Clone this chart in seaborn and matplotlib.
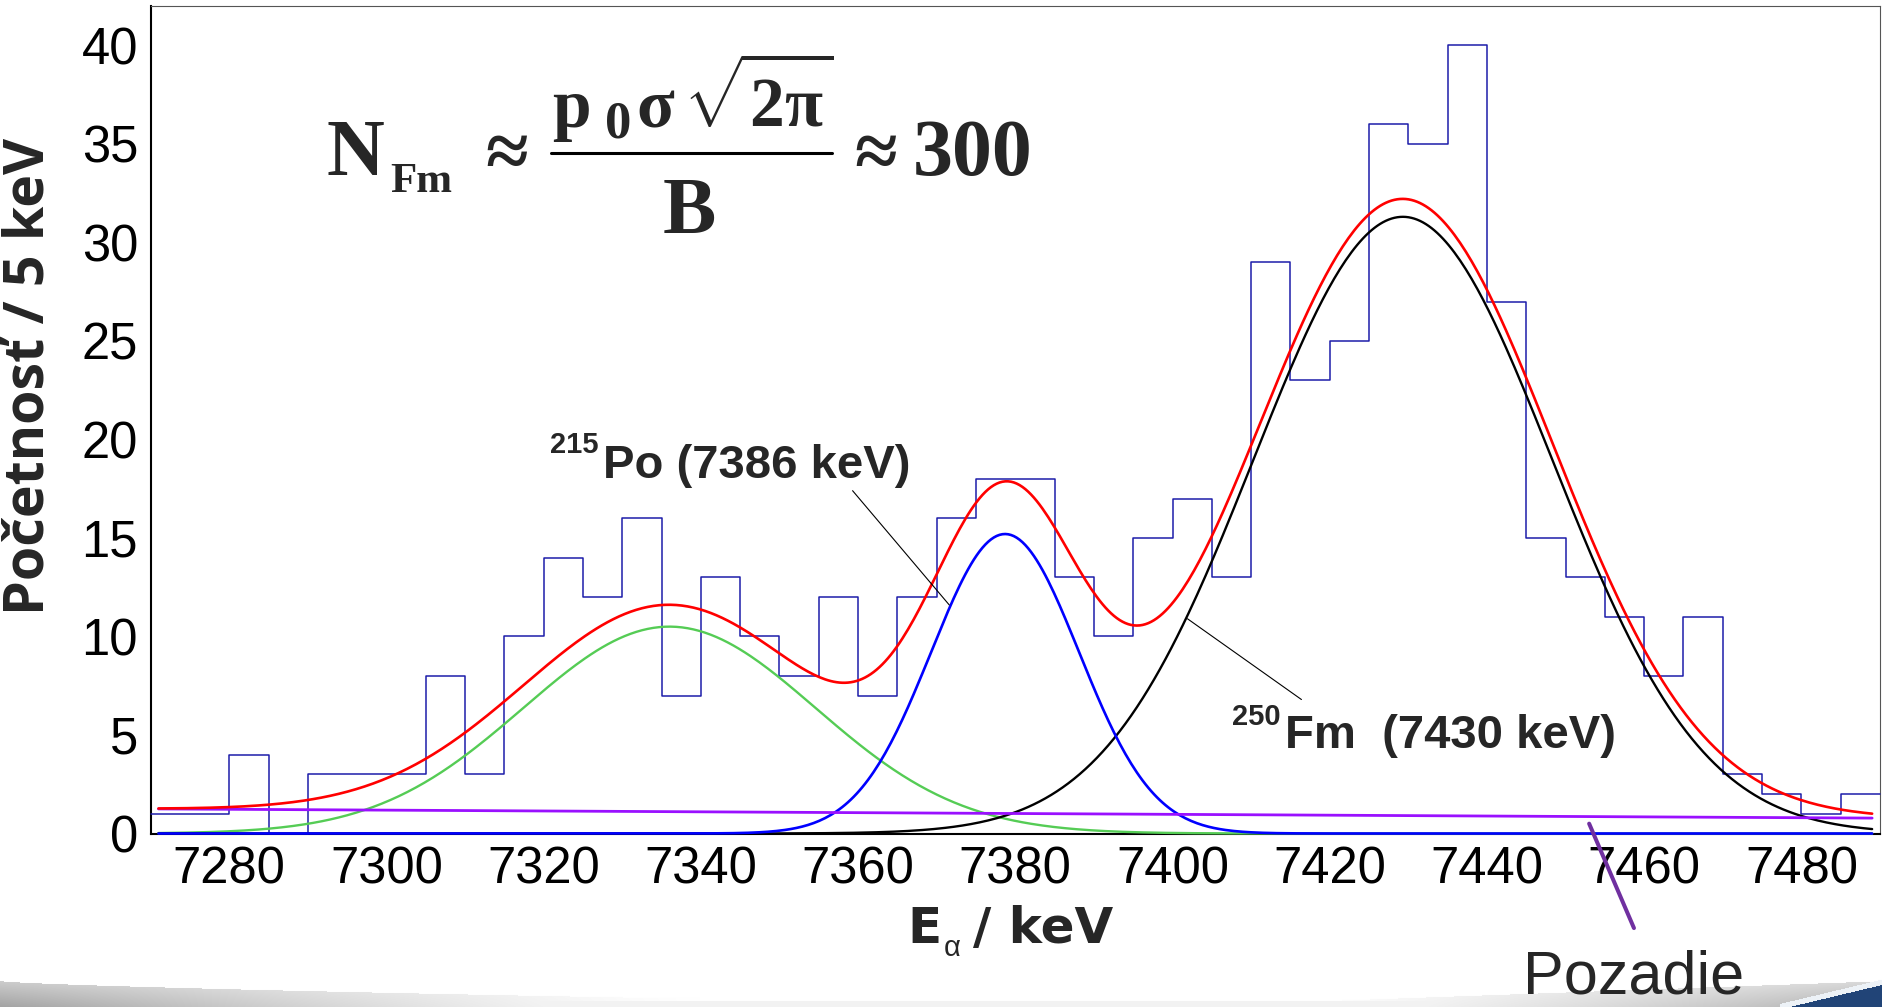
import numpy as np
import pandas as pd
import matplotlib
matplotlib.use("Agg")
import matplotlib.pyplot as plt
import seaborn as sns
from matplotlib.lines import Line2D

# ------------------------------------------------------------------ data
bin_width = 5
bin_left = list(range(7270, 7490, bin_width))          # 44 bins, 7270 .. 7485
counts = [1, 1, 4, 0, 3, 3, 3, 8, 3, 10,
          14, 12, 16, 7, 13, 10, 8, 12, 7, 12,
          16, 18, 18, 13, 10, 15, 17, 13, 29, 23,
          25, 36, 35, 40, 27, 15, 13, 11, 8, 11,
          3, 2, 1, 2]

# fitted gaussian components (amplitude, mean, sigma)
peak_names = ["pík 7336", "215Po", "250Fm"]
peak_amplitude = [10.5, 15.2, 31.3]
peak_mean = [7336.0, 7378.7, 7429.3]
peak_sigma = [18.6, 9.4, 19.0]
peak_colors = ["#55CC55", "#0000FF", "#000000"]

# linear background (pozadie)
background_x = [7270, 7490]
background_y = [1.25, 0.78]
fit_range = [7271, 7489]

x_ticks = [7280, 7300, 7320, 7340, 7360, 7380, 7400, 7420, 7440, 7460, 7480]
y_ticks = [0, 5, 10, 15, 20, 25, 30, 35, 40]

# ------------------------------------------------------------------ style
sns.set_style("white")
plt.rcParams["font.family"] = ["Liberation Sans", "DejaVu Sans"]
plt.rcParams["mathtext.fontset"] = "custom"
plt.rcParams["mathtext.rm"] = "Liberation Serif:bold"
plt.rcParams["mathtext.it"] = "Liberation Serif:bold"
plt.rcParams["mathtext.bf"] = "Liberation Serif:bold"
plt.rcParams["mathtext.default"] = "bf"

W, H = 1882, 1007
fig = plt.figure(figsize=(W / 100, H / 100), dpi=100)
fig.patch.set_facecolor("white")

ax_left, ax_right, ax_top, ax_bottom = 150.6, 1880.0, 6.0, 833.5
ax = fig.add_axes([ax_left / W, 1 - ax_bottom / H,
                   (ax_right - ax_left) / W, (ax_bottom - ax_top) / H])

def ft(x, y, s, **kw):
    return fig.text(x / W, 1 - y / H, s, **kw)

# ------------------------------------------------------------------ histogram
edges = bin_left + [bin_left[-1] + bin_width]
hist_df = pd.DataFrame({"E": [b + bin_width / 2 for b in bin_left], "n": counts})
sns.histplot(data=hist_df, x="E", weights="n", bins=edges, element="step",
             fill=False, color="#1C1CAA", linewidth=1.1, ax=ax, zorder=2)

# ------------------------------------------------------------------ fit curves
xs = np.linspace(fit_range[0], fit_range[1], 600)
bg = np.interp(xs, background_x, background_y)
comps = []
for a, m, s in zip(peak_amplitude, peak_mean, peak_sigma):
    comps.append(a * np.exp(-0.5 * ((xs - m) / s) ** 2))
total = bg + sum(comps)

lw = {0: 1.7, 1: 1.9, 2: 1.7}
for i in [0, 2, 1]:
    sns.lineplot(x=xs, y=comps[i], color=peak_colors[i], linewidth=lw[i], ax=ax)
sns.lineplot(x=xs, y=bg, color="#9A10FF", linewidth=2.0, ax=ax)
sns.lineplot(x=xs, y=total, color="#FF0000", linewidth=1.9, ax=ax)
for ln in ax.lines:
    ln.set_clip_on(False)
    ln.set_zorder(3)

# ------------------------------------------------------------------ axes
ax.set_xlim(7270, 7490)
ax.set_ylim(0, 42)
ax.set_xlabel("")
ax.set_ylabel("")
ax.set_xticks(x_ticks)
ax.set_xticklabels([str(v) for v in x_ticks])
ax.set_xticks(np.arange(7270, 7491, 5), minor=True)
ax.set_yticks(y_ticks)
ax.set_yticklabels([str(v) for v in y_ticks])
ax.set_yticks(np.arange(0, 42, 1), minor=True)
ax.tick_params(axis="x", which="major", direction="in", length=17.3, width=1.0,
               pad=8.5, labelsize=36.5, top=False, colors="black")
ax.tick_params(axis="x", which="minor", direction="in", length=9.4, width=1.0, top=False)
ax.tick_params(axis="y", which="major", direction="in", length=38, width=1.0,
               pad=9, labelsize=36.5, right=False, colors="black")
ax.tick_params(axis="y", which="minor", direction="in", length=19.4, width=1.0, right=False)
for side in ["left", "bottom"]:
    ax.spines[side].set_color("black")
    ax.spines[side].set_linewidth(1.5)
for side in ["top", "right"]:
    ax.spines[side].set_color("#555555")
    ax.spines[side].set_linewidth(0.8)
ax.set_facecolor("white")

# ------------------------------------------------------------------ annotations
ann = dict(arrowstyle="-", lw=0.8, color="black", shrinkA=0, shrinkB=0)
ax.annotate("", xy=(7371.6, 11.6), xytext=(7359.3, 17.4), arrowprops=ann)
ax.annotate("", xy=(7416.4, 6.8), xytext=(7401.9, 10.9), arrowprops=ann)
ax.annotate("", xy=(7458.7, -4.8), xytext=(7453.0, 0.5), annotation_clip=False,
            arrowprops=dict(arrowstyle="-", lw=2.9, color="#7030A0", shrinkA=0, shrinkB=0))

ft(550, 453, "215", fontsize=21, fontweight="bold", va="baseline", ha="left")
ft(603, 478, "Po (7386 keV)", fontsize=34, fontweight="bold", va="baseline", ha="left")
ft(1232, 725, "250", fontsize=21, fontweight="bold", va="baseline", ha="left")
ft(1285, 748, "Fm  (7430 keV)", fontsize=34, fontweight="bold", va="baseline", ha="left")

ft(1523, 1006, "Pozadie", fontsize=44, va="bottom", ha="left")

# axis titles
ft(29, 376, "Početnosť / 5 keV", fontsize=40, fontweight="bold", rotation=90,
   ha="center", va="center", family=["Open Sans", "DejaVu Sans"])
ft(907, 943, "E", fontsize=36, fontweight="bold", va="baseline", ha="left",
   family=["DejaVu Sans"])
ft(944, 956, "α", fontsize=21, va="baseline", ha="left")
ft(973, 943, "/ keV", fontsize=36, fontweight="bold", va="baseline", ha="left",
   family=["DejaVu Sans"])

# formula
serif = ["Liberation Serif", "DejaVu Serif"]
ft(327, 175, "N", fontsize=57.6, fontweight="bold", family=serif, va="baseline", ha="left")
ft(390, 192, "Fm", fontsize=31, fontweight="bold", family=serif, va="baseline", ha="left")
ft(507, 177, "≈", fontsize=56, fontweight="bold", family=serif, va="baseline", ha="center")
ft(552, 127, "p", fontsize=50, fontweight="bold", family=serif, va="baseline", ha="left")
ft(605, 137, "0", fontsize=38, fontweight="bold", family=serif, va="baseline", ha="left")
ft(636, 127, "σ", fontsize=50, fontweight="bold", family=serif, va="baseline", ha="left")
ft(683, 127, r"$\sqrt{2\pi}$", fontsize=50, va="baseline", ha="left")
fig.add_artist(Line2D([551 / W, 832 / W], [1 - 153 / H, 1 - 153 / H],
                      transform=fig.transFigure, color="black", lw=2.2))
ft(689, 233, "B", fontsize=57.6, fontweight="bold", family=serif, va="baseline", ha="center")
ft(876, 177, "≈", fontsize=56, fontweight="bold", family=serif, va="baseline", ha="center")
ft(913, 175, "300", fontsize=57.6, fontweight="bold", family=serif, va="baseline", ha="left")

# ------------------------------------------------------------------ slide decoration
deco = fig.add_axes([0, 0, 1, 42 / H])
deco.axis("off")
hh = 42
yy, xx = np.mgrid[0:hh, 0:W]
yp = (H - hh) + yy + 0.5
xp = xx + 0.5
img = np.ones((hh, W, 3))
dark = np.zeros((hh, W))
top_l = 981 + 17 * np.clip(xp / 650, 0, 1) ** 0.7
fade_l = np.clip(1 - xp / 700, 0, 1) ** 1.3
dark = np.where(yp >= top_l, 0.36 * fade_l * (0.55 + 0.45 * np.clip((yp - 981) / 26, 0, 1)), dark)
t = np.clip((xp - 1300) / 560, 0, 1)
top_r = 1002 - 20 * t
dark = np.maximum(dark, np.where(yp >= top_r, 0.30 * t ** 1.2 * (0.5 + 0.5 * np.clip((yp - 982) / 25, 0, 1)), 0))
dark = np.maximum(dark, np.where(yp >= 1001, 0.05, 0))
for c in range(3):
    img[:, :, c] = 1 - dark
wedge = (xp > 1790) & (yp > 1007 - 22 * (xp - 1790) / 92)
img[wedge] = np.array([0.13, 0.27, 0.47])
stripe = (xp > 1780) & (yp > 1004 - 22 * (xp - 1780) / 92) & ~wedge
img[stripe] = np.array([0.93, 0.95, 0.97])
deco.imshow(img, extent=[0, 1, 0, 1], aspect="auto", interpolation="bilinear")
deco.set_xlim(0, 1)
deco.set_ylim(0, 1)

fig.savefig("out.png", dpi=100, facecolor="white")
